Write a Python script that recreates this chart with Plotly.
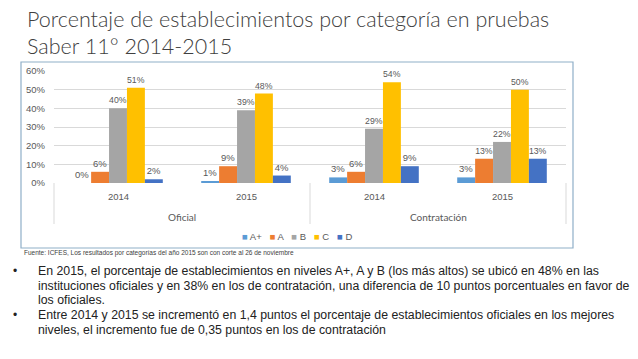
import plotly.graph_objects as go

# ---------------- data ----------------
groups = ["Oficial", "Oficial", "Contratación", "Contratación"]
years = ["2014", "2015", "2014", "2015"]
series_names = ["A+", "A", "B", "C", "D"]
series_colors = ["#5B9BD5", "#ED7D31", "#A5A5A5", "#FFC000", "#4472C4"]
vals_a_plus = [0.00, 0.01, 0.03, 0.03]
vals_a = [0.06, 0.09, 0.06, 0.13]
vals_b = [0.40, 0.39, 0.29, 0.22]
vals_c = [0.51, 0.48, 0.54, 0.50]
vals_d = [0.02, 0.04, 0.09, 0.13]
y_ticks = [0, 0.1, 0.2, 0.3, 0.4, 0.5, 0.6]

title_lines = ["Porcentaje de establecimientos por categoría en pruebas",
               "Saber 11° 2014-2015"]
source_text = "Fuente: ICFES, Los resultados por categorías del año 2015 son con corte al 26 de noviembre"
bullet_lines = [
    (True, "En 2015, el porcentaje de establecimientos en niveles A+, A y B (los más altos) se ubicó en 48% en las"),
    (False, "instituciones oficiales y en 38% en los de contratación, una diferencia de 10 puntos porcentuales en favor de"),
    (False, "los oficiales."),
    (True, "Entre 2014 y 2015 se incrementó en 1,4 puntos el porcentaje de establecimientos oficiales en los mejores"),
    (False, "niveles, el incremento fue de 0,35 puntos en los de contratación"),
]

all_vals = [vals_a_plus, vals_a, vals_b, vals_c, vals_d]

# ---------------- geometry helpers (pixel -> paper) ----------------
W, H = 638, 359
L, R, T, B = 54, 72, 71, 176
PW, PH = W - L - R, H - T - B


def px(x):
    return (x - L) / PW


def py(y):
    return (H - B - y) / PH


fig = go.Figure()
for name, color, vals in zip(series_names, series_colors, all_vals):
    fig.add_trace(go.Bar(
        x=[groups, years], y=vals, name=name, marker_color=color,
        marker_line_width=0,
        texttemplate="%{y:.0%}", textposition="outside",
        textfont=dict(size=9.5, color="#595959", family="Liberation Sans"),
        cliponaxis=False,
    ))

grey = "#595959"
fig.update_layout(
    width=W, height=H,
    margin=dict(l=L, r=R, t=T, b=B, pad=0),
    barmode="group", bargap=0.30, bargroupgap=0,
    plot_bgcolor="white", paper_bgcolor="white",
    showlegend=False,
    font=dict(family="Liberation Sans", color=grey),
    xaxis=dict(type="multicategory", showdividers=False, showticklabels=False,
               showline=False, ticks="", showgrid=False),
    yaxis=dict(range=[0, 0.6], tickvals=y_ticks, tickformat=".0%",
               gridcolor="#D9D9D9", zeroline=False, showline=False, ticks="",
               tickfont=dict(size=9.5, color=grey), ticklabelstandoff=8),
)

# chart border
fig.add_shape(type="rect", xref="paper", yref="paper",
              x0=px(21), x1=px(573), y0=py(248), y1=py(62),
              line=dict(color="#8FAFC8", width=1.2), layer="below")

# category labels (two levels) and dividers, Excel style
n_cat = len(years)
for i, yr in enumerate(years):
    fig.add_annotation(x=(i + 0.5) / n_cat, y=py(196), xref="paper", yref="paper", text=yr,
                       showarrow=False, xanchor="center", yanchor="middle",
                       font=dict(size=9.5, color=grey))
uniq_groups = list(dict.fromkeys(groups))
start = 0
for g in uniq_groups:
    cnt = groups.count(g)
    fig.add_annotation(x=(start + cnt / 2) / n_cat, y=py(217), xref="paper", yref="paper", text=g,
                       showarrow=False, xanchor="center", yanchor="middle",
                       font=dict(size=10, color=grey, family="Lato"))
    start += cnt
bounds = [0]
for g in uniq_groups:
    bounds.append(bounds[-1] + groups.count(g))
for b in bounds:
    fig.add_shape(type="line", xref="paper", yref="paper",
                  x0=b / n_cat, x1=b / n_cat, y0=py(183), y1=py(224),
                  line=dict(color="#D9D9D9", width=1))

# legend built from series lists
leg = "   ".join(f"<span style='color:{c}'>■</span> {n}" for n, c in zip(series_names, series_colors))
fig.add_annotation(x=px(297), y=py(236), xref="paper", yref="paper", text=leg,
                   showarrow=False, xanchor="center", yanchor="middle",
                   font=dict(size=9.5, color=grey))

# title
for i, line in enumerate(title_lines):
    fig.add_annotation(x=px(25), y=py(19 + 27 * i), xref="paper", yref="paper", text=line,
                       showarrow=False, xanchor="left", yanchor="middle",
                       font=dict(size=21.5, color="#404040", family="Lato", weight=300))

# source
fig.add_annotation(x=px(22), y=py(253), xref="paper", yref="paper", text=source_text,
                   showarrow=False, xanchor="left", yanchor="middle",
                   font=dict(size=6.5, color="#404040", family="Liberation Sans"))

# bullets
line_y = [271, 286, 300, 315, 330]
for (bul, txt), yy in zip(bullet_lines, line_y):
    if bul:
        fig.add_annotation(x=px(11), y=py(yy), xref="paper", yref="paper", text="•",
                           showarrow=False, xanchor="left", yanchor="middle",
                           font=dict(size=12, color="#222222", family="Liberation Sans"))
    fig.add_annotation(x=px(36), y=py(yy), xref="paper", yref="paper", text=txt,
                       showarrow=False, xanchor="left", yanchor="middle",
                       font=dict(size=12.3, color="#222222", family="Liberation Sans"))

fig.write_html("out.html", config={"displayModeBar": False},
               post_script="document.body.style.margin='0px';")
